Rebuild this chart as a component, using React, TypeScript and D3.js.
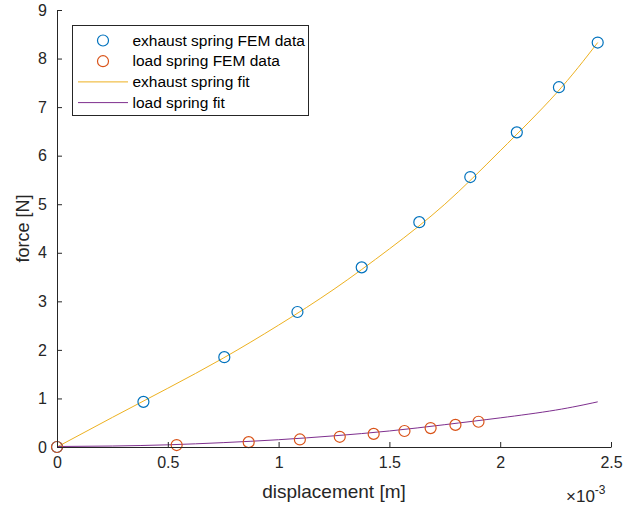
import React, { useRef, useEffect } from "react";
import * as d3 from "d3";

// displacement in units of 1e-3 m
const exhaustX = [0, 0.39, 0.755, 1.085, 1.375, 1.635, 1.865, 2.075, 2.265, 2.44];
const exhaustY = [0, 0.93, 1.85, 2.78, 3.7, 4.63, 5.56, 6.48, 7.41, 8.33];
const loadX = [0, 0.54, 0.865, 1.096, 1.276, 1.429, 1.568, 1.686, 1.798, 1.902];
const loadY = [0, 0.04, 0.1, 0.155, 0.21, 0.27, 0.33, 0.39, 0.455, 0.52];

const fitX = [0, 0.25, 0.5, 0.75, 1, 1.25, 1.5, 1.75, 2, 2.25, 2.44];
const exhaustFitY = [0, 0.61, 1.21, 1.83, 2.51, 3.25, 4.08, 5.0, 6.1, 7.27, 8.33];
const loadFitY = [0.01, 0.02, 0.045, 0.09, 0.15, 0.23, 0.33, 0.46, 0.6, 0.76, 0.93];

const xTicks = [0, 0.5, 1, 1.5, 2, 2.5];
const yTicks = [0, 1, 2, 3, 4, 5, 6, 7, 8, 9];

const legendItems = [
  { label: "exhaust spring FEM data", color: "#0072BD", kind: "marker" },
  { label: "load spring FEM data", color: "#D95319", kind: "marker" },
  { label: "exhaust spring fit", color: "#EDB120", kind: "line" },
  { label: "load spring fit", color: "#7E2F8E", kind: "line" },
];

const W = 623;
const H = 506;
const margin = { top: 10, right: 12, bottom: 59, left: 57 };
const axisColor = "#262626";
const font = "'Liberation Sans', Arial, sans-serif";

export default function App() {
  const svgRef = useRef<SVGSVGElement>(null);

  useEffect(() => {
    const svg = d3.select(svgRef.current);
    svg.selectAll("*").remove();

    const x = d3.scaleLinear().domain([0, 2.5]).range([margin.left, W - margin.right]);
    const y = d3.scaleLinear().domain([0, 9]).range([H - margin.bottom, margin.top]);

    // fit lines
    const line = d3
      .line<[number, number]>()
      .x((d) => x(d[0]))
      .y((d) => y(d[1]))
      .curve(d3.curveNatural);

    svg
      .append("path")
      .attr("d", line(fitX.map((v, i) => [v, exhaustFitY[i]])))
      .attr("fill", "none")
      .attr("stroke", "#EDB120")
      .attr("stroke-width", 1);

    svg
      .append("path")
      .attr("d", line(fitX.map((v, i) => [v, loadFitY[i]])))
      .attr("fill", "none")
      .attr("stroke", "#7E2F8E")
      .attr("stroke-width", 1);

    // markers
    const markers = (xs: number[], ys: number[], color: string) => {
      svg
        .append("g")
        .selectAll("circle")
        .data(xs.map((v, i) => [v, ys[i]]))
        .join("circle")
        .attr("cx", (d) => x(d[0]))
        .attr("cy", (d) => y(d[1]))
        .attr("r", 5.5)
        .attr("fill", "none")
        .attr("stroke", color)
        .attr("stroke-width", 1.2);
    };
    markers(exhaustX, exhaustY, "#0072BD");
    markers(loadX, loadY, "#D95319");

    // axes
    const xAxis = svg
      .append("g")
      .attr("transform", `translate(0,${H - margin.bottom})`)
      .call(
        d3
          .axisBottom(x)
          .tickValues(xTicks)
          .tickSize(-5)
          .tickSizeOuter(0)
          .tickPadding(10)
          .tickFormat((d) => d3.format("")(d as number))
      );
    const yAxis = svg
      .append("g")
      .attr("transform", `translate(${margin.left},0)`)
      .call(
        d3
          .axisLeft(y)
          .tickValues(yTicks)
          .tickSize(-5)
          .tickSizeOuter(0)
          .tickPadding(10)
      );

    [xAxis, yAxis].forEach((ax) => {
      ax.select(".domain").attr("stroke", axisColor).attr("stroke-width", 1);
      ax.selectAll(".tick line").attr("stroke", axisColor);
      ax.selectAll(".tick text")
        .attr("fill", axisColor)
        .style("font-family", font)
        .style("font-size", "16px");
    });

    // axis labels
    svg
      .append("text")
      .attr("x", (margin.left + W - margin.right) / 2)
      .attr("y", 498)
      .attr("text-anchor", "middle")
      .attr("fill", axisColor)
      .style("font-family", font)
      .style("font-size", "19px")
      .text("displacement [m]");

    svg
      .append("text")
      .attr("transform", `translate(29,${(margin.top + H - margin.bottom) / 2}) rotate(-90)`)
      .attr("text-anchor", "middle")
      .attr("fill", axisColor)
      .style("font-family", font)
      .style("font-size", "18px")
      .text("force [N]");

    // exponent
    const expo = svg
      .append("text")
      .attr("x", 566)
      .attr("y", 502)
      .attr("fill", axisColor)
      .style("font-family", font)
      .style("font-size", "17px");
    expo.append("tspan").text("×10");
    expo.append("tspan").attr("dy", -8).style("font-size", "12px").text("-3");

    // legend
    const legend = svg.append("g").attr("transform", "translate(72.5,25.5)");
    legend
      .append("rect")
      .attr("width", 236)
      .attr("height", 90)
      .attr("fill", "white")
      .attr("stroke", axisColor)
      .attr("stroke-width", 1);

    legendItems.forEach((item, i) => {
      const row = legend.append("g").attr("transform", `translate(0,${15 + i * 20.7})`);
      if (item.kind === "marker") {
        row
          .append("circle")
          .attr("cx", 30.5)
          .attr("cy", 0)
          .attr("r", 5.5)
          .attr("fill", "none")
          .attr("stroke", item.color)
          .attr("stroke-width", 1.2);
      } else {
        row
          .append("line")
          .attr("x1", 5.5)
          .attr("x2", 55.5)
          .attr("stroke", item.color)
          .attr("stroke-width", 1);
      }
      row
        .append("text")
        .attr("x", 60)
        .attr("y", 5)
        .attr("fill", "#000")
        .style("font-family", font)
        .style("font-size", "15.5px")
        .text(item.label);
    });
  }, []);

  return (
    <svg
      ref={svgRef}
      width={W}
      height={H}
      style={{ position: "absolute", left: 0, top: 0, background: "white" }}
    />
  );
}
